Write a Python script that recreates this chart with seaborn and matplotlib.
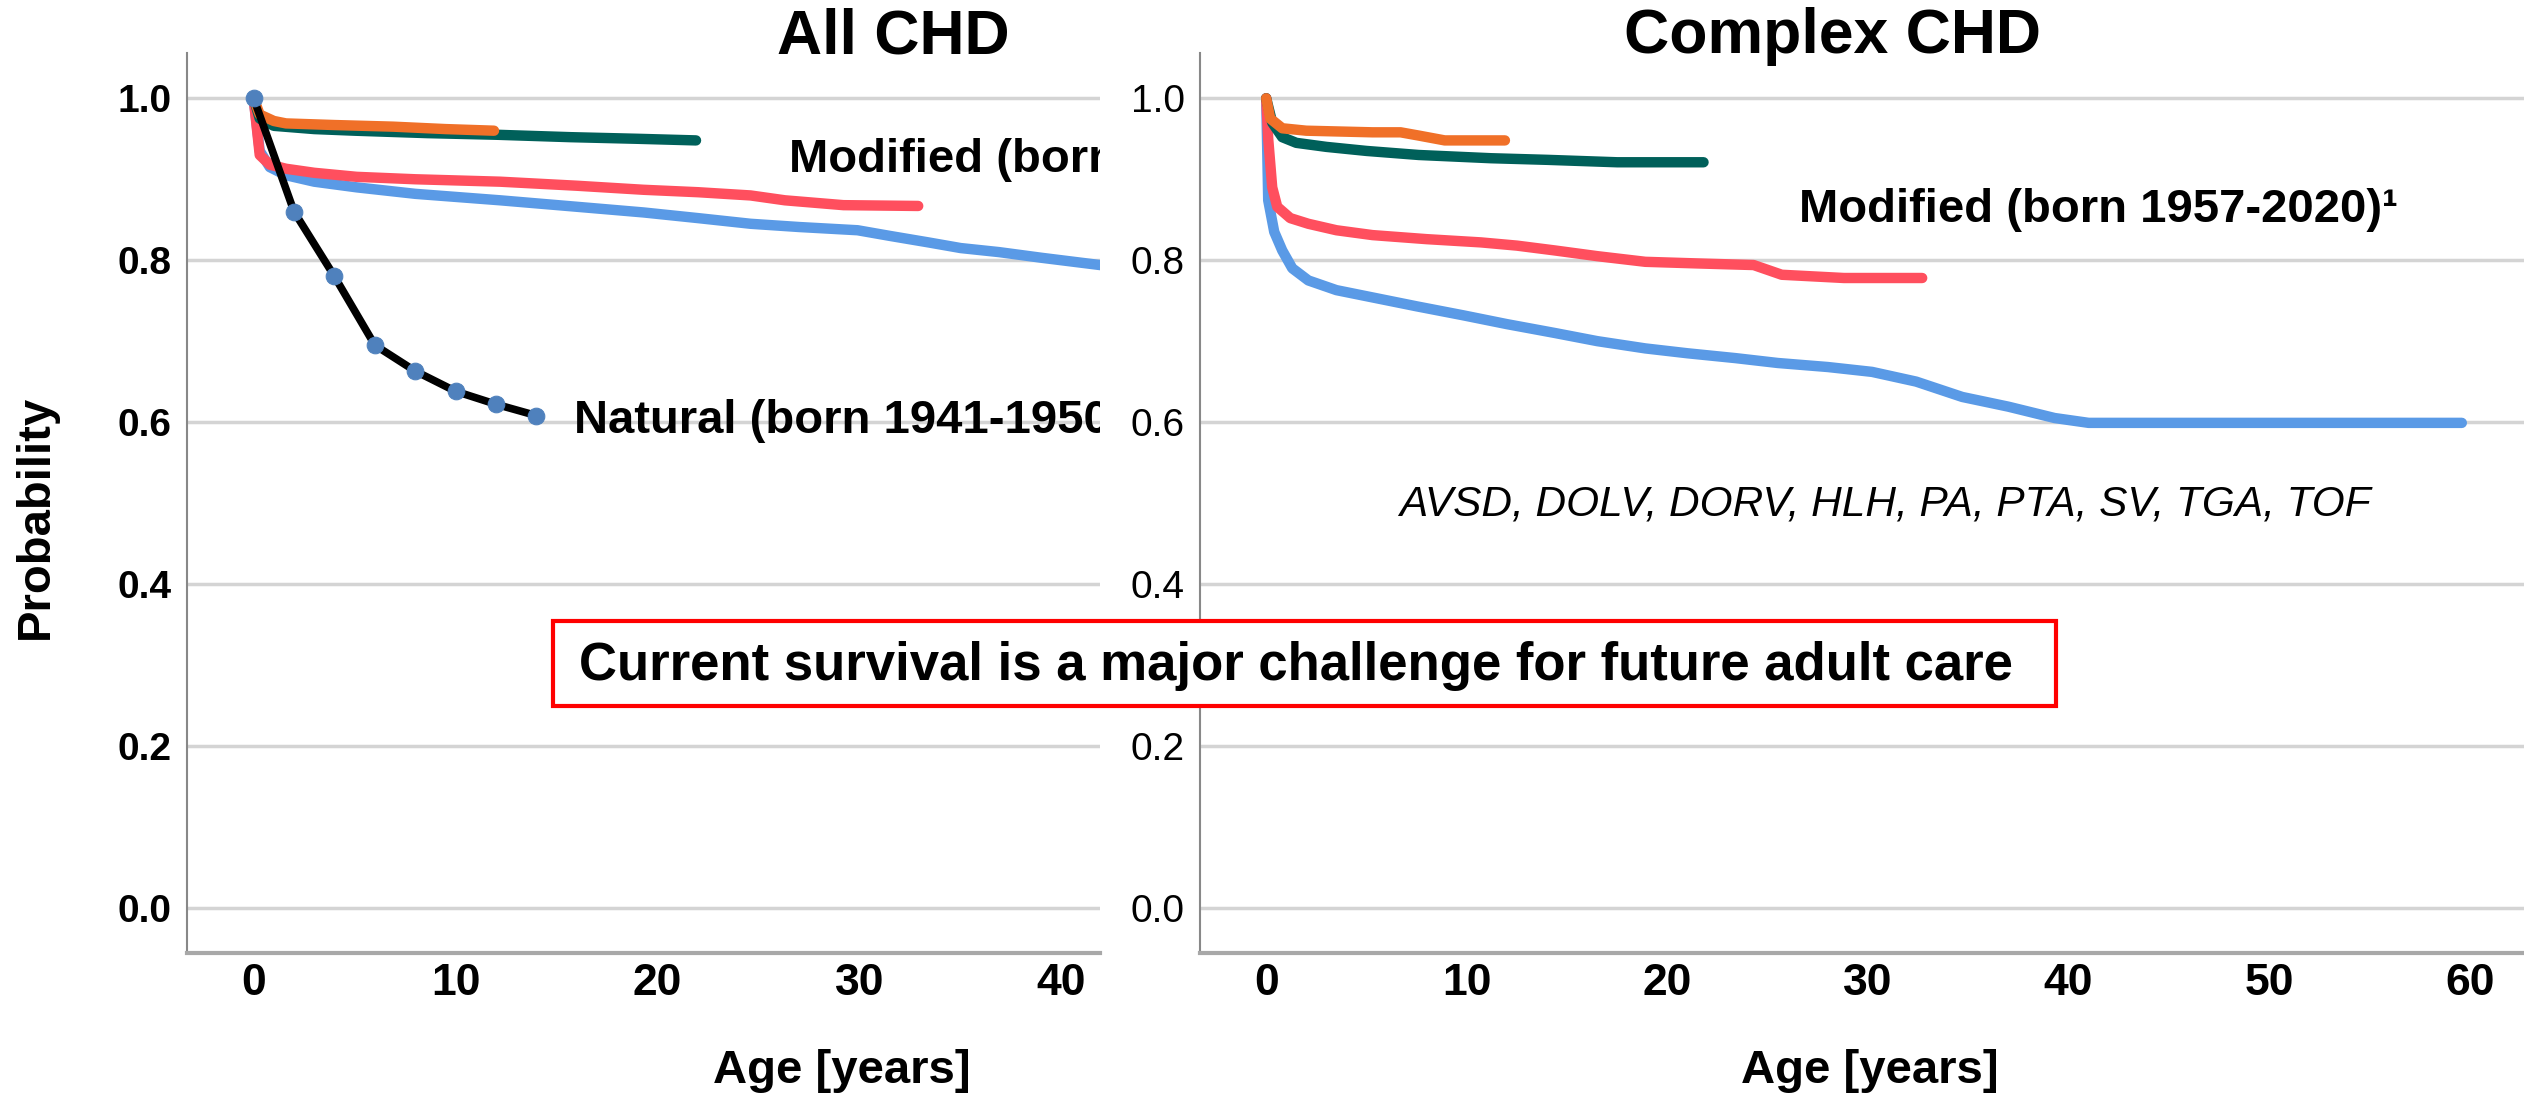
import numpy as np
import pandas as pd
import matplotlib.pyplot as plt
from matplotlib.patches import Rectangle
import seaborn as sns

sns.set_style('white')
plt.rcParams['font.family'] = ['Liberation Sans', 'DejaVu Sans']
plt.rcParams['text.color'] = 'black'
plt.rcParams['xtick.color'] = 'black'
plt.rcParams['ytick.color'] = 'black'

# ---- All CHD (left panel)
all_blue_age = [0, 0.3, 0.8, 1.6, 3, 5.1, 8, 12.2, 16, 19.3, 22, 24.6, 27, 29.9, 31.5, 33.4, 35, 36.9, 39, 41.9, 44]
all_blue_p = [1.0, 0.935, 0.915, 0.905, 0.897, 0.89, 0.882, 0.874, 0.866, 0.859, 0.852, 0.845, 0.841, 0.837, 0.83, 0.822, 0.815, 0.81, 0.803, 0.794, 0.79]
all_red_age = [0, 0.3, 0.8, 1.6, 3, 5.1, 8, 12.2, 16, 19.3, 22, 24.6, 26.3, 29.2, 32.9]
all_red_p = [1.0, 0.93, 0.918, 0.913, 0.908, 0.903, 0.9, 0.897, 0.892, 0.887, 0.884, 0.88, 0.874, 0.868, 0.867]
all_teal_age = [0, 0.3, 1, 3, 5, 8.6, 12, 15.7, 19, 21.9]
all_teal_p = [1.0, 0.975, 0.966, 0.962, 0.96, 0.957, 0.955, 0.952, 0.95, 0.948]
all_orange_age = [0, 0.3, 1, 1.6, 4, 6.9, 9.5, 11.9]
all_orange_p = [1.0, 0.98, 0.972, 0.969, 0.967, 0.965, 0.962, 0.96]
natural_age = [0, 2, 4, 6, 8, 10, 12, 14]
natural_p = [1.0, 0.86, 0.78, 0.695, 0.663, 0.638, 0.622, 0.608]

# ---- Complex CHD (right panel)
cx_blue_age = [0, 0.1, 0.4, 0.8, 1.3, 2.1, 3.5, 5.3, 7.5, 9.8, 12, 14.4, 16.5, 18.9, 21, 23.4, 25.5, 28, 30.2, 32.4, 34.7, 37, 39.3, 41, 59.6]
cx_blue_p = [1.0, 0.874, 0.835, 0.812, 0.79, 0.775, 0.763, 0.754, 0.743, 0.732, 0.721, 0.71, 0.7, 0.691, 0.685, 0.679, 0.673, 0.668, 0.662, 0.65, 0.631, 0.619, 0.605, 0.599, 0.599]
cx_red_age = [0, 0.1, 0.3, 0.55, 1.2, 2.1, 3.5, 5.3, 8, 10.7, 12.5, 14.4, 16.5, 18.9, 21.5, 24.3, 25.7, 28.8, 32.7]
cx_red_p = [1.0, 0.95, 0.89, 0.866, 0.852, 0.845, 0.837, 0.831, 0.826, 0.822, 0.818, 0.812, 0.805, 0.798, 0.796, 0.794, 0.782, 0.778, 0.778]
cx_teal_age = [0, 0.3, 0.8, 1.5, 3.0, 5, 7.6, 11.2, 14, 17.5, 21.8]
cx_teal_p = [1.0, 0.97, 0.952, 0.945, 0.94, 0.935, 0.93, 0.926, 0.924, 0.921, 0.921]
cx_orange_age = [0, 0.2, 0.8, 2, 5.3, 6.7, 7.6, 8.9, 11.9]
cx_orange_p = [1.0, 0.975, 0.963, 0.96, 0.958, 0.958, 0.954, 0.948, 0.948]

y_ticks = [0.0, 0.2, 0.4, 0.6, 0.8, 1.0]
group_order = ['blue', 'red', 'teal', 'orange']
palette = {'blue': '#5A9AE6', 'red': '#FF4F5E', 'teal': '#00605A', 'orange': '#F07028'}


def frame(curves):
    rows = []
    for name, ages, probs in curves:
        rows.append(pd.DataFrame({'age': ages, 'p': probs, 'group': name}))
    return pd.concat(rows, ignore_index=True)


all_df = frame([('blue', all_blue_age, all_blue_p), ('red', all_red_age, all_red_p),
                ('teal', all_teal_age, all_teal_p), ('orange', all_orange_age, all_orange_p)])
cx_df = frame([('blue', cx_blue_age, cx_blue_p), ('red', cx_red_age, cx_red_p),
               ('teal', cx_teal_age, cx_teal_p), ('orange', cx_orange_age, cx_orange_p)])
nat_df = pd.DataFrame({'age': natural_age, 'p': natural_p})

W, H = 2524, 1094
fig = plt.figure(figsize=(W / 100, H / 100), dpi=100)
ax1 = fig.add_axes([187 / W, 1 - 953 / H, (1100 - 187) / W, 900 / H])
ax2 = fig.add_axes([1200 / W, 1 - 953 / H, (W - 1200) / W, 900 / H])

for ax, df, xmax, xt in [(ax1, all_df, 41.9, [0, 10, 20, 30, 40]),
                         (ax2, cx_df, 62.7, [0, 10, 20, 30, 40, 50, 60])]:
    for g in group_order:
        sns.lineplot(data=df[df['group'] == g], x='age', y='p', color=palette[g],
                     linewidth=7.5, errorbar=None, ax=ax, zorder=3)
    ax.set_xlim(-3.3, xmax)
    ax.set_ylim(-0.056, 1.056)
    ax.set_xticks(xt)
    ax.set_yticks(y_ticks)
    ax.set_yticklabels([f'{v:.1f}' for v in y_ticks])
    ax.set_xlabel('')
    ax.set_ylabel('')
    for y in y_ticks:
        ax.axhline(y, color='#d4d4d4', lw=2.5, zorder=1)
    for s in ['top', 'right']:
        ax.spines[s].set_visible(False)
    ax.spines['left'].set_color('#888888')
    ax.spines['left'].set_linewidth(1.5)
    ax.spines['bottom'].set_color('#a8a8a8')
    ax.spines['bottom'].set_linewidth(3)
    ax.tick_params(axis='both', length=0, colors='black')
    ax.tick_params(axis='x', pad=7, labelsize=32)
    ax.tick_params(axis='y', pad=11, labelsize=28)
    for lab in ax.get_xticklabels():
        lab.set_fontweight('bold')

for lab in ax1.get_yticklabels():
    lab.set_fontweight('bold')

sns.lineplot(data=nat_df, x='age', y='p', color='black', linewidth=5.5,
             marker='o', markersize=12, markerfacecolor='#4F81BD',
             markeredgecolor='#4F81BD', errorbar=None, ax=ax1, zorder=4)
ax1.set_xlabel('')
ax1.set_ylabel('')

ax1.text(26.5, 0.9086, 'Modified (born 1957-2020)\u00b9', fontsize=34, fontweight='bold',
         va='baseline', ha='left', clip_on=True)
ax1.text(15.85, 0.586, 'Natural (born 1941-1950)', fontsize=34, fontweight='bold',
         va='baseline', ha='left', clip_on=True)
ax2.text(26.56, 0.847, 'Modified (born 1957-2020)\u00b9', fontsize=34, fontweight='bold',
         va='baseline', ha='left')
ax2.text(30.84, 0.485, 'AVSD, DOLV, DORV, HLH, PA, PTA, SV, TGA, TOF', fontsize=30.5,
         style='italic', va='baseline', ha='center')

fig.text(893 / W, 1 - 37 / H, 'All CHD', fontsize=45, fontweight='bold', ha='center', va='center')
fig.text(1833 / W, 1 - 37 / H, 'Complex CHD', fontsize=45, fontweight='bold', ha='center', va='center')
fig.text(36 / W, 1 - 517 / H, 'Probability', fontsize=34, fontweight='bold', rotation=90,
         ha='center', va='center')
fig.text(842 / W, 1 - 1083 / H, 'Age [years]', fontsize=34, fontweight='bold', ha='center', va='baseline')
fig.text(1870 / W, 1 - 1083 / H, 'Age [years]', fontsize=34, fontweight='bold', ha='center', va='baseline')

fig.patches.append(Rectangle((553 / W, 1 - 706 / H), 1503 / W, 85 / H, transform=fig.transFigure,
                             facecolor='white', edgecolor='#ff0000', linewidth=3, zorder=5))
fig.text(1296 / W, 1 - 680 / H, 'Current survival is a major challenge for future adult care',
         fontsize=38, fontweight='bold', ha='center', va='baseline', zorder=6)

fig.savefig('out.png', dpi=100)
